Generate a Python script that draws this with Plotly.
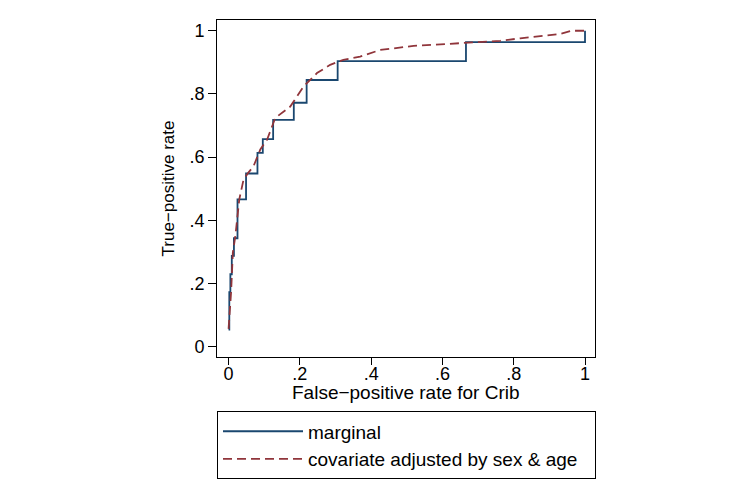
import plotly.graph_objects as go

# Marginal (empirical) ROC: step corners (horizontal then vertical)
marg_fpr = [0.0, 0.002, 0.005, 0.009, 0.015, 0.025, 0.049, 0.081, 0.096, 0.125, 0.183, 0.219, 0.306, 0.666, 1.0]
marg_tpr = [0.054, 0.172, 0.229, 0.287, 0.343, 0.466, 0.548, 0.613, 0.657, 0.718, 0.772, 0.844, 0.904, 0.964, 1.0]

# Covariate-adjusted ROC
adj_fpr = [0.0, 0.004, 0.007, 0.012, 0.019, 0.030, 0.042, 0.055, 0.070, 0.089, 0.108, 0.131, 0.173, 0.210,
           0.248, 0.285, 0.322, 0.369, 0.425, 0.519, 0.650, 0.762, 0.818, 0.930, 0.963, 1.0]
adj_tpr = [0.056, 0.12, 0.172, 0.298, 0.350, 0.466, 0.529, 0.55, 0.571, 0.624, 0.655, 0.724, 0.760, 0.823,
           0.866, 0.892, 0.908, 0.918, 0.939, 0.952, 0.960, 0.968, 0.976, 0.990, 1.0, 1.0]

tick_vals = [0, 0.2, 0.4, 0.6, 0.8, 1]
tick_text = ["0", ".2", ".4", ".6", ".8", "1"]
x_title = "False\u2212positive rate for Crib"
y_title = "True\u2212positive rate"

FONT = "Liberation Sans, Arial, sans-serif"

fig = go.Figure()
fig.add_trace(go.Scatter(x=marg_fpr, y=marg_tpr, mode="lines", name="marginal",
                         line=dict(color="#1a476f", width=1.8, shape="hv")))
fig.add_trace(go.Scatter(x=adj_fpr, y=adj_tpr, mode="lines", name="covariate adjusted by sex & age",
                         line=dict(color="#90353b", width=1.8, dash="9px,5px")))

fig.update_layout(
    width=749, height=490,
    margin=dict(l=217, r=154, t=20, b=132),
    paper_bgcolor="white", plot_bgcolor="white",
    font=dict(family=FONT, size=19, color="black"),
    showlegend=True,
    legend=dict(
        x=0, xanchor="left", y=-0.158, yanchor="top",
        orientation="h", entrywidthmode="pixels", entrywidth=282,
        bordercolor="black", borderwidth=1, bgcolor="white",
        font=dict(family=FONT, size=19, color="black"),
        itemwidth=80, tracegroupgap=0,
    ),
    xaxis=dict(
        range=[-0.0325, 1.028], tickvals=tick_vals, ticktext=tick_text,
        showline=True, linecolor="black", linewidth=1, mirror=True,
        ticks="outside", ticklen=7, tickcolor="black", showgrid=False, zeroline=False,
        tickfont=dict(size=18), ticklabelstandoff=-7,
    ),
    yaxis=dict(
        range=[-0.033, 1.034], tickvals=tick_vals, ticktext=tick_text,
        showline=True, linecolor="black", linewidth=1, mirror=True,
        ticks="outside", ticklen=8, tickcolor="black", showgrid=False, zeroline=False,
        tickfont=dict(size=18),
        title=dict(text=y_title, standoff=10, font=dict(size=17)),
    ),
    annotations=[dict(text=x_title, xref="paper", yref="paper", x=0.5, y=-0.104,
                      xanchor="center", yanchor="middle", showarrow=False,
                      font=dict(family=FONT, size=19, color="black"))],
)

fig.write_html("out.html")
